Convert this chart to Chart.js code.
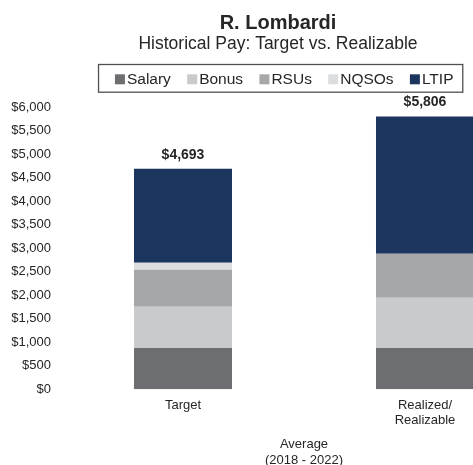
<!DOCTYPE html>
<html>
<head>
<meta charset="utf-8">
<script src="https://cdn.jsdelivr.net/npm/chart.js@4.4.1/dist/chart.umd.min.js"></script>
<style>
  html, body { margin: 0; padding: 0; overflow: hidden; background: #ffffff; }
  #wrap { width: 562px; height: 468px; }
</style>
</head>
<body>
<div id="wrap"><canvas id="c" width="562" height="468"></canvas></div>
<script>
// ---- Data ----
const categories = ['Target', ['Realized/', 'Realizable']];
const seriesNames = ['Salary', 'Bonus', 'RSUs', 'NQSOs', 'LTIP'];
const salary = [880, 880];
const bonus  = [875, 1067];
const rsus   = [789, 938];
const nqsos  = [149, 0];
const ltip   = [2000, 2921];
const yMin = 0, yMax = 6000, yStep = 500;
const chartTitle = 'R. Lombardi';
const chartSubtitle = 'Historical Pay: Target vs. Realizable';
const xAxisTitle = ['Average', '(2018 - 2022)'];

const colors = ['#6d6e71', '#c9cacc', '#a6a7a9', '#dcdddf', '#1b355e'];
const FONT = "'Liberation Sans', Arial, Helvetica, sans-serif";
const TEXT = '#262626';

const seriesValues = [salary, bonus, rsus, nqsos, ltip];
const datasets = seriesNames.map((name, i) => ({
  label: name,
  data: seriesValues[i],
  backgroundColor: colors[i],
  borderWidth: 0,
  stack: 'pay',
  categoryPercentage: 1.0,
  barPercentage: 0.405
}));

const fmt = v => '$' + Number(v).toLocaleString('en-US');

const totalsPlugin = {
  id: 'totals',
  afterDatasetsDraw(chart) {
    const {ctx, scales: {x, y}} = chart;
    ctx.save();
    ctx.font = 'bold 14px ' + FONT;
    ctx.fillStyle = TEXT;
    ctx.textAlign = 'center';
    ctx.textBaseline = 'middle';
    chart.data.labels.forEach((lab, i) => {
      let total = 0;
      chart.data.datasets.forEach(ds => { total += ds.data[i]; });
      ctx.fillText(fmt(total), x.getPixelForValue(i), y.getPixelForValue(total) - 14);
    });
    ctx.restore();
  }
};

const boxLegendPlugin = {
  id: 'boxLegend',
  afterDraw(chart) {
    const {ctx} = chart;
    ctx.save();
    ctx.font = '15.5px ' + FONT;
    const box = 10, gapText = 2, gapItem = 16.3;
    const items = chart.data.datasets.map(ds => ({ text: ds.label, color: ds.backgroundColor, w: ctx.measureText(ds.label).width }));
    let content = 0;
    items.forEach((it, i) => { content += box + gapText + it.w + (i < items.length - 1 ? gapItem : 0); });
    const centerX = 284.2;
    let xPos = centerX - content / 2;
    const cy = 79.3;
    ctx.strokeStyle = '#505050';
    ctx.lineWidth = 1.3;
    ctx.strokeRect(xPos - 16.4, 64.5, content + 16.4 + 9.3, 27.7);
    ctx.textBaseline = 'middle';
    ctx.textAlign = 'left';
    items.forEach(it => {
      ctx.fillStyle = it.color;
      ctx.fillRect(xPos, cy - box / 2, box, box);
      ctx.fillStyle = TEXT;
      ctx.fillText(it.text, xPos + box + gapText, cy + 0.5);
      xPos += box + gapText + it.w + gapItem;
    });
    ctx.restore();
  }
};

new Chart(document.getElementById('c'), {
  type: 'bar',
  data: { labels: categories, datasets },
  options: {
    responsive: false,
    animation: false,
    layout: { padding: { left: 10, right: 16, top: 0, bottom: 0 } },
    plugins: {
      legend: { display: false },
      tooltip: { enabled: false },
      title: {
        display: true, text: chartTitle, color: TEXT,
        font: { family: FONT, size: 20, weight: 'bold', lineHeight: 1 },
        padding: { top: 13.3, bottom: 0 }
      },
      subtitle: {
        display: true, text: chartSubtitle, color: TEXT,
        font: { family: FONT, size: 17.5, weight: 'normal', lineHeight: 1 },
        padding: { top: 2.25, bottom: 54.25 }
      }
    },
    scales: {
      x: {
        stacked: true,
        grid: { display: false, drawTicks: false },
        border: { display: false },
        ticks: { color: TEXT, font: { family: FONT, size: 13, lineHeight: 1.15 }, padding: 9, maxRotation: 0, autoSkip: false },
        title: { display: true, text: xAxisTitle, color: TEXT, font: { family: FONT, size: 13, lineHeight: 1.2 }, padding: { top: 0, bottom: 0 } },
        afterFit(scale) { scale.height = 78.7; }
      },
      y: {
        stacked: true,
        min: yMin, max: yMax,
        grid: { display: false, drawTicks: false },
        border: { display: false },
        ticks: { stepSize: yStep, color: TEXT, font: { family: FONT, size: 13 }, padding: 11, callback: v => fmt(v) },
        afterFit(scale) { scale.width = 52; }
      }
    }
  },
  plugins: [totalsPlugin, boxLegendPlugin]
});
</script>
</body>
</html>
